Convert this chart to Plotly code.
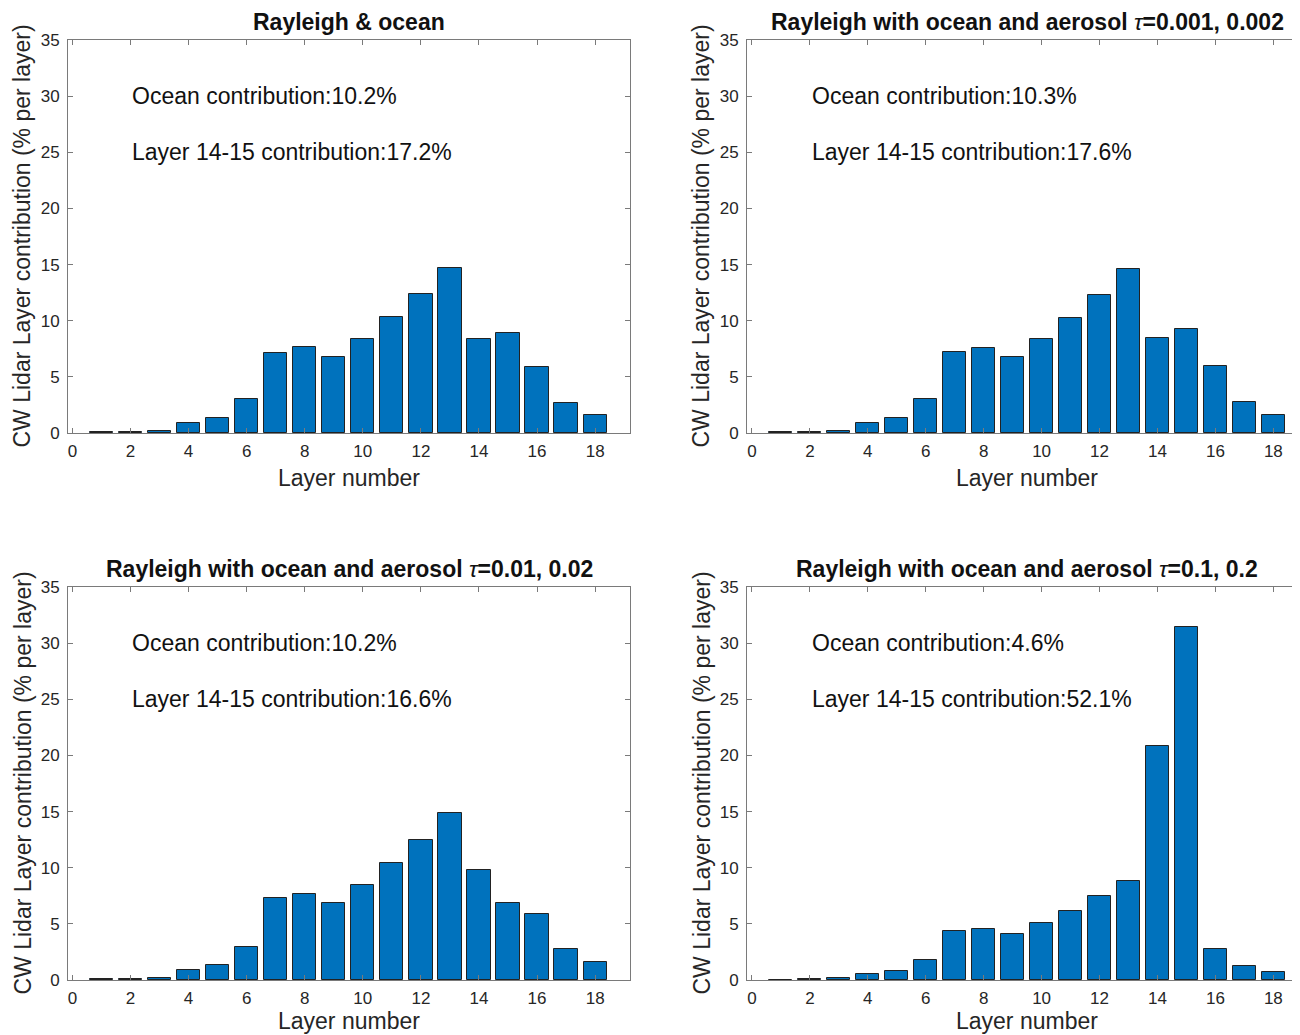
import plotly.graph_objects as go

layers = list(range(1, 19))

p1_vals = [0.06, 0.06, 0.2, 0.92, 1.34, 3.0, 7.16, 7.63, 6.77, 8.4, 10.3, 12.36, 14.68, 8.35, 8.91, 5.88, 2.64, 1.63]
p2_vals = [0.05, 0.06, 0.2, 0.92, 1.34, 3.0, 7.17, 7.59, 6.79, 8.36, 10.27, 12.29, 14.6, 8.45, 9.23, 5.98, 2.74, 1.64]
p3_vals = [0.05, 0.06, 0.2, 0.92, 1.34, 2.97, 7.26, 7.64, 6.87, 8.5, 10.38, 12.46, 14.84, 9.78, 6.87, 5.89, 2.74, 1.64]
p4_vals = [0.04, 0.05, 0.15, 0.57, 0.8, 1.82, 4.35, 4.55, 4.14, 5.06, 6.16, 7.44, 8.78, 20.86, 31.46, 2.77, 1.25, 0.74]

titles = [
    "<b>Rayleigh & ocean</b>",
    "<b>Rayleigh with ocean and aerosol </b><i>τ</i><b>=0.001, 0.002</b>",
    "<b>Rayleigh with ocean and aerosol </b><i>τ</i><b>=0.01, 0.02</b>",
    "<b>Rayleigh with ocean and aerosol </b><i>τ</i><b>=0.1, 0.2</b>",
]
ocean_text = ["Ocean contribution:10.2%", "Ocean contribution:10.3%",
              "Ocean contribution:10.2%", "Ocean contribution:4.6%"]
layer_text = ["Layer 14-15 contribution:17.2%", "Layer 14-15 contribution:17.6%",
              "Layer 14-15 contribution:16.6%", "Layer 14-15 contribution:52.1%"]

x_ticks = list(range(0, 19, 2))
y_ticks = list(range(0, 36, 5))
x_title = "Layer number"
y_title = "CW Lidar Layer contribution (% per layer)"

OFF = 8  # page body margin
W, H = 1300 - OFF, 1035 - OFF
FONT = "Liberation Sans, Arial, Helvetica, sans-serif"
BAR_COLOR = "#0072BD"
AX_COLOR = "#7a7a7a"
TXT = "#262626"

# panel pixel boxes in screen pixels: (left, right, top, bottom)
boxes = [(68, 630, 40, 433), (747, 1300, 40, 433), (68, 630, 587, 980), (747, 1300, 587, 980)]
xranges = [[-0.15, 19.2], [-0.17, 18.92], [-0.15, 19.2], [-0.17, 18.92]]
title_cx = [349, 1027, 349, 1027]
ytitle_cx = [22, 701, 22, 701]
xtitle_gap = [45, 45, 41, 41]


def px(v):
    return (v - OFF) / W


def py(v):
    return (H - (v - OFF)) / H


fig = go.Figure()
all_vals = [p1_vals, p2_vals, p3_vals, p4_vals]
for i, vals in enumerate(all_vals):
    k = "" if i == 0 else str(i + 1)
    fig.add_trace(go.Bar(x=layers, y=vals, width=0.8,
                         marker=dict(color=BAR_COLOR, line=dict(color="#222222", width=1)),
                         xaxis="x" + k, yaxis="y" + k, showlegend=False))
    l, r, t, b = boxes[i]
    xa = dict(domain=[px(l), min(1.0, px(r))], range=xranges[i], tickvals=x_ticks,
              ticks="inside", ticklen=5, tickcolor=AX_COLOR, showline=True, linecolor=AX_COLOR,
              linewidth=1, mirror="ticks", showgrid=False, zeroline=False, automargin=False,
              tickfont=dict(size=17, color=TXT, family=FONT),
              ticklabelstandoff=3, anchor="y" + k)
    ya = dict(domain=[py(b), py(t)], range=[0, 35], tickvals=y_ticks,
              ticks="inside", ticklen=5, tickcolor=AX_COLOR, showline=True, linecolor=AX_COLOR,
              linewidth=1, mirror="ticks", showgrid=False, zeroline=False, automargin=False,
              tickfont=dict(size=17, color=TXT, family=FONT),
              ticklabelstandoff=4, anchor="x" + k)
    fig.update_layout(**{"xaxis" + k: xa, "yaxis" + k: ya})
    fig.add_annotation(x=2, y=30, xref="x" + k, yref="y" + k, text=ocean_text[i],
                       showarrow=False, xanchor="left", yanchor="middle",
                       font=dict(size=23, color="#111111", family=FONT))
    fig.add_annotation(x=2, y=25, xref="x" + k, yref="y" + k, text=layer_text[i],
                       showarrow=False, xanchor="left", yanchor="middle",
                       font=dict(size=23, color="#111111", family=FONT))
    fig.add_annotation(x=px(title_cx[i]), y=py(t - 3), xref="paper", yref="paper",
                       text=titles[i], showarrow=False, xanchor="center", yanchor="bottom",
                       font=dict(size=23, color="#111111", family=FONT))
    # x-axis title
    fig.add_annotation(x=px(title_cx[i]), y=py(b + xtitle_gap[i]), xref="paper", yref="paper",
                       text=x_title, showarrow=False, xanchor="center", yanchor="middle",
                       font=dict(size=23, color=TXT, family=FONT))
    # y-axis title
    fig.add_annotation(x=px(ytitle_cx[i]), y=py((t + b) / 2), xref="paper", yref="paper",
                       text=y_title, showarrow=False, xanchor="center", yanchor="middle",
                       textangle=-90, font=dict(size=23, color=TXT, family=FONT))

fig.update_layout(width=W, height=H, margin=dict(l=0, r=0, t=0, b=0, autoexpand=False),
                  plot_bgcolor="white", paper_bgcolor="white", bargap=0)

fig.write_html("out.html")
